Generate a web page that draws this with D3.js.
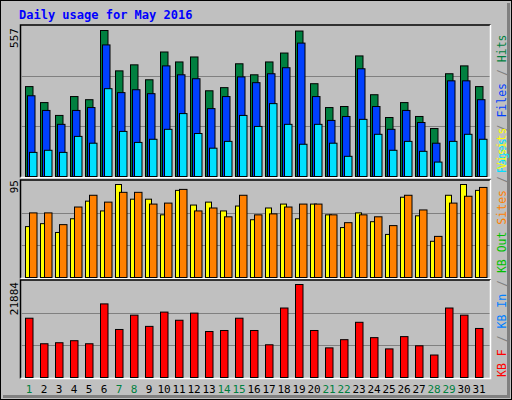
<!DOCTYPE html>
<html><head><meta charset="utf-8">
<script src="https://cdn.jsdelivr.net/npm/d3@7"></script>
<style>body{margin:0;background:#fff}</style></head>
<body><svg id="c" width="512" height="400"></svg>
<script>
const days = d3.range(1,32);
const weekend = [1,7,8,14,15,21,22,28,29];
const hits  = [343,282,233,305,293,557,403,426,369,475,437,456,327,339,430,388,437,471,555,354,263,267,460,312,225,282,229,183,392,422,343];
const files = [308,252,199,252,263,502,320,331,316,422,388,373,259,305,380,358,392,415,509,305,214,229,411,267,180,252,206,127,365,365,293];
const pages = [92,100,92,153,127,335,172,130,142,180,240,164,108,134,233,191,278,199,123,199,127,77,218,161,100,134,96,55,134,161,142];
const visits= [52,55,46,60,78,68,95,80,80,64,89,74,77,68,73,59,71,75,60,75,64,51,66,57,44,82,63,37,84,95,89];
const sites = [66,66,54,72,84,77,87,87,75,76,90,68,71,62,84,64,65,72,75,75,64,56,64,62,53,84,69,42,76,83,92];
const kbytes= [13950,7940,8180,8660,7940,17320,11300,14670,12030,15390,13470,15150,10820,11060,13950,11060,7700,16350,21884,11060,6970,8900,12990,9380,6730,9620,7460,5290,16350,14670,11540];

const svg = d3.select("#c");
const mono = "DejaVu Sans Mono, monospace";
svg.append("rect").attr("x",0).attr("y",0).attr("width",512).attr("height",400).attr("fill","#c0c0c0");
svg.append("rect").attr("x",0.5).attr("y",0.5).attr("width",511).attr("height",399).attr("fill","none").attr("stroke","#000");
svg.append("path").attr("d","M3,396.5H508.5V3").attr("fill","none").attr("stroke","#808080").attr("stroke-width",3);
svg.append("text").attr("x",19).attr("y",19).attr("font-family",mono).attr("font-weight","bold").attr("font-size",12).attr("fill","#0000ff").text("Daily usage for May 2016");

const x = d3.scaleLinear().domain([1,31]).range([25,475]);
const L=20.5, R=490.5;
function panel(top,bottom){
  svg.append("rect").attr("x",L).attr("y",top).attr("width",R-L).attr("height",bottom-top).attr("fill","#c0c0c0");
  svg.append("path").attr("d",`M${L},${bottom}V${top}H${R}`).attr("fill","none").attr("stroke","#000").attr("stroke-width",1.5);
  svg.append("path").attr("d",`M${L},${bottom}H${R}V${top}`).attr("fill","none").attr("stroke","#fff").attr("stroke-width",1.5);
  const base = bottom-1.5, h = base-top-1;
  [1/3,2/3].forEach(f=>svg.append("line").attr("x1",L+1).attr("x2",R-1).attr("y1",Math.round(base-h*f)+0.5).attr("y2",Math.round(base-h*f)+0.5).attr("stroke","#808080"));
  return base;
}
function bars(data,y,dx,w,color,base){
  svg.append("g").selectAll("rect").data(data).join("rect")
    .attr("x",(d,i)=>x(days[i])+dx+0.5).attr("y",d=>y(d)+0.5)
    .attr("width",w).attr("height",d=>base-y(d)).attr("fill",color).attr("stroke","#000").attr("stroke-width",1);
}
let b1 = panel(25,177.5);
const y1 = d3.scaleLinear().domain([0,557]).range([b1,30]);
bars(hits,y1,0,7.5,"#008040",b1); bars(files,y1,2,7.5,"#0040ff",b1); bars(pages,y1,4,7.5,"#00e0ff",b1);
let b2 = panel(180,278.5);
const y2 = d3.scaleLinear().domain([0,95]).range([b2,184]);
bars(visits,y2,0,6,"#ffff00",b2); bars(sites,y2,4,7.5,"#ff8000",b2);
let b3 = panel(280,378.5);
const y3 = d3.scaleLinear().domain([0,21884]).range([b3,284]);
bars(kbytes,y3,0,7.5,"#ff0000",b3);

[[557,28],[95,180],[21884,282]].forEach(([v,y])=>{
  svg.append("text").attr("transform",`translate(18,${y}) rotate(-90)`).attr("text-anchor","end")
    .attr("font-family",mono).attr("font-size",11).attr("fill","#000").text(v);
});
svg.append("g").selectAll("text").data(days).join("text")
  .attr("x",d=>x(d)+4).attr("y",393).attr("text-anchor","middle").attr("font-family",mono).attr("font-size",11)
  .attr("fill",d=>weekend.includes(d)?"#008040":"#000").text(d=>d);
function vlab(y,parts){
  const t = svg.append("text").attr("transform",`translate(506,${y}) rotate(-90)`).attr("font-family",mono).attr("font-size",11.5);
  parts.forEach(([s,c])=>t.append("tspan").attr("fill",c).text(s));
}
vlab(173,[["Pages","#00e0ff"],[" / ","#808080"],["Files","#0040ff"],[" / ","#808080"],["Hits","#008040"]]);
vlab(377,[["KB F","#ff0000"],[" / ","#808080"],["KB In","#0080ff"],[" / ","#808080"],["KB Out","#00c000"],[" ","#808080"],["Sites","#ff8000"],[" / ","#808080"],["Visits","#ffff00"]]);
</script></body></html>
